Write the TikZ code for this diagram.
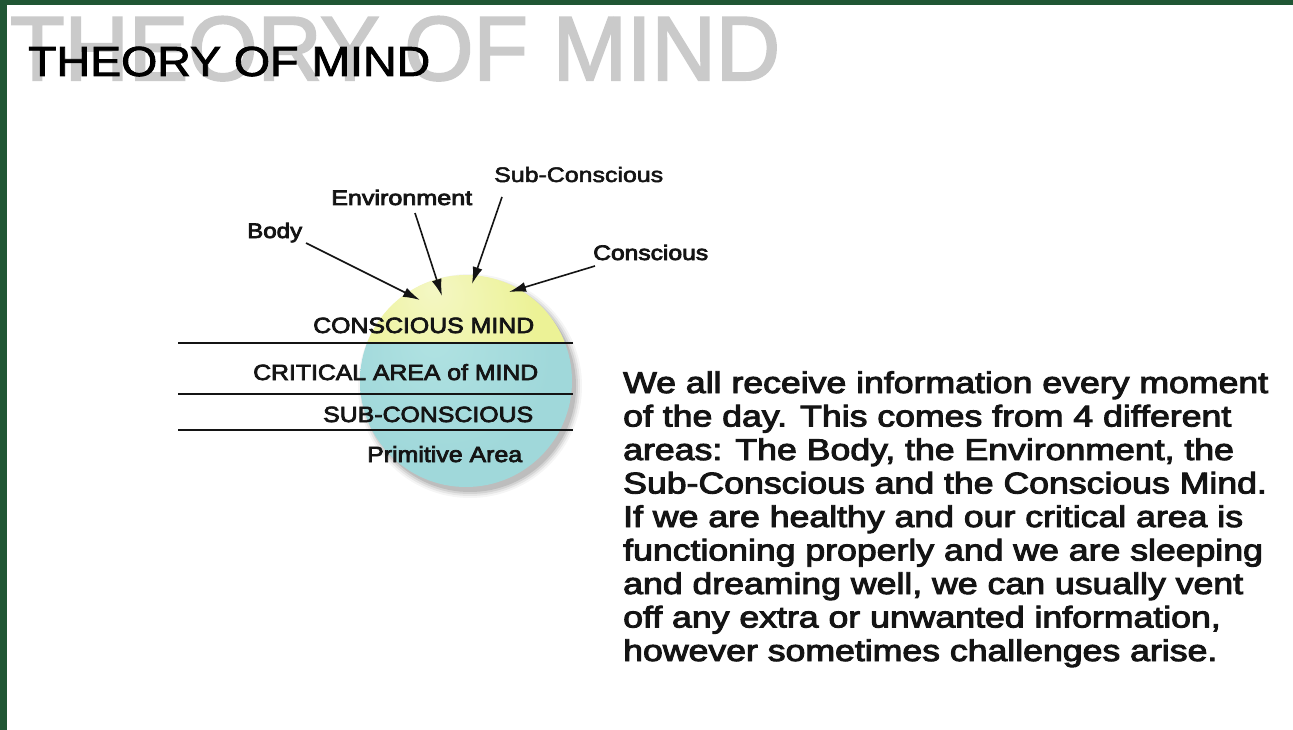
\documentclass[tikz,border=0pt]{standalone}
\usepackage{fontspec}
\usepackage{graphicx}
\setmainfont{Liberation Sans}
\usetikzlibrary{arrows.meta}
\definecolor{bordergreen}{RGB}{32,86,52}
\definecolor{titlegray}{RGB}{202,202,202}
\definecolor{inkdark}{RGB}{20,20,20}
\definecolor{yHi}{RGB}{244,247,196}
\definecolor{yMid}{RGB}{236,242,150}
\definecolor{yEdge}{RGB}{226,234,128}
\definecolor{cHi}{RGB}{176,226,226}
\definecolor{cMid}{RGB}{160,216,218}
\definecolor{cEdge}{RGB}{128,186,190}
\pgfdeclareradialshading{ballY}{\pgfpoint{-8bp}{22bp}}{color(0bp)=(yHi); color(22bp)=(yMid); color(50bp)=(yMid); color(70bp)=(yEdge)}
\pgfdeclareradialshading{ballC}{\pgfpoint{-8bp}{10bp}}{color(0bp)=(cHi); color(25bp)=(cMid); color(48bp)=(cMid); color(62bp)=(cEdge)}
\newcommand\fitw[2]{\resizebox{#1}{\height}{#2}}
\newcommand\heavy[2]{\special{pdf:literal direct 2 Tr #1 w}#2\special{pdf:literal direct 0 Tr}}
\newlength\plen
\settowidth\plen{\fontsize{30}{33.5}\selectfont We all receive information every moment}
\begin{document}
\begin{tikzpicture}[x=1pt,y=-1pt,
  lbl/.style={inner sep=0pt, anchor=base west, text=inkdark, font=\fontsize{22}{22}\selectfont},
  src/.style={inner sep=0pt, anchor=base west, text=inkdark, font=\fontsize{21}{21}\selectfont},
  divider/.style={line width=1.3pt, draw=inkdark},
  feed/.style={line width=1.6pt, draw=inkdark, -{Latex[length=17pt,width=10pt]}}]
\useasboundingbox (0,0) rectangle (1293,730);
\fill[white] (0,0) rectangle (1293,730);
\fill[bordergreen] (0,0) rectangle (1293,5);
\fill[bordergreen] (0,0) rectangle (7,730);

% titles
\node[anchor=base west, inner sep=0pt, text=titlegray, font=\fontsize{91}{91}\selectfont] (bgtitle) at (10,80) {\fitw{770pt}{\heavy{2}{THEORY OF MIND}}};
\node[anchor=base west, inner sep=0pt, text=black, font=\fontsize{42}{42}\selectfont] (title) at (28,76) {\fitw{402pt}{\heavy{0.8}{THEORY OF MIND}}};

% ball shadow
\foreach \r/\o in {112/0.04,110/0.06,108/0.08,106/0.10} {
  \fill[black, opacity=\o] (470,386) circle (\r);
}
% ball
\begin{scope}
  \clip (340,255) rectangle (600,343);
  \shade[shading=ballY] (466,381) circle (106);
\end{scope}
\begin{scope}
  \clip (340,343) rectangle (600,510);
  \shade[shading=ballC] (466,381) circle (106);
\end{scope}

% dividers
\coordinate (d1a) at (178,343); \coordinate (d1b) at (573,343);
\coordinate (d2a) at (178,394); \coordinate (d2b) at (573,394);
\coordinate (d3a) at (178,430); \coordinate (d3b) at (573,430);
\draw[divider] (d1a) -- (d1b);
\draw[divider] (d2a) -- (d2b);
\draw[divider] (d3a) -- (d3b);

% layer labels
\node[lbl] (cm)  at (313,333) {\fitw{221pt}{\heavy{0.7}{CONSCIOUS MIND}}};
\node[lbl] (cam) at (253,380) {\fitw{285pt}{\heavy{0.7}{CRITICAL AREA of MIND}}};
\node[lbl] (sc)  at (323,422) {\fitw{210pt}{\heavy{0.7}{SUB-CONSCIOUS}}};
\node[lbl] (pa)  at (367,462) {\fitw{155pt}{\heavy{0.7}{Primitive Area}}};

% source labels
\node[src] (body) at (247,238) {\fitw{55pt}{\heavy{0.7}{Body}}};
\node[src] (env)  at (331,205) {\fitw{141pt}{\heavy{0.7}{Environment}}};
\node[src] (sub)  at (494,182) {\fitw{169pt}{\heavy{0.5}{Sub-Conscious}}};
\node[src] (con)  at (593,260) {\fitw{115pt}{\heavy{0.7}{Conscious}}};

% arrow tips
\coordinate (tbody) at (420,300);
\coordinate (tenv)  at (442,296);
\coordinate (tsub)  at (472,284);
\coordinate (tcon)  at (509,292);
\coordinate (sbody) at (306,243);
\coordinate (senv)  at (415,213);
\coordinate (ssub)  at (502,197);
\coordinate (scon)  at (595,266);
\draw[feed] (sbody) -- (tbody);
\draw[feed] (senv) -- (tenv);
\draw[feed] (ssub) -- (tsub);
\draw[feed] (scon) -- (tcon);

% paragraph
\pgfmathsetmacro\pxs{645/\plen}
\node[anchor=base west, inner sep=0pt, text=inkdark] (para) at (623,393) {\scalebox{\pxs}[1]{\fontsize{30}{33.5}\selectfont
\heavy{0.9}{\begin{tabular}[t]{@{}l@{}}
We all receive information every moment\\
of the day. This comes from 4 different\\
areas: The Body, the Environment, the\\
Sub-Conscious and the Conscious Mind.\\
If we are healthy and our critical area is\\
functioning properly and we are sleeping\\
and dreaming well, we can usually vent\\
off any extra or unwanted information,\\
however sometimes challenges arise.
\end{tabular}}}};
\end{tikzpicture}
\end{document}
